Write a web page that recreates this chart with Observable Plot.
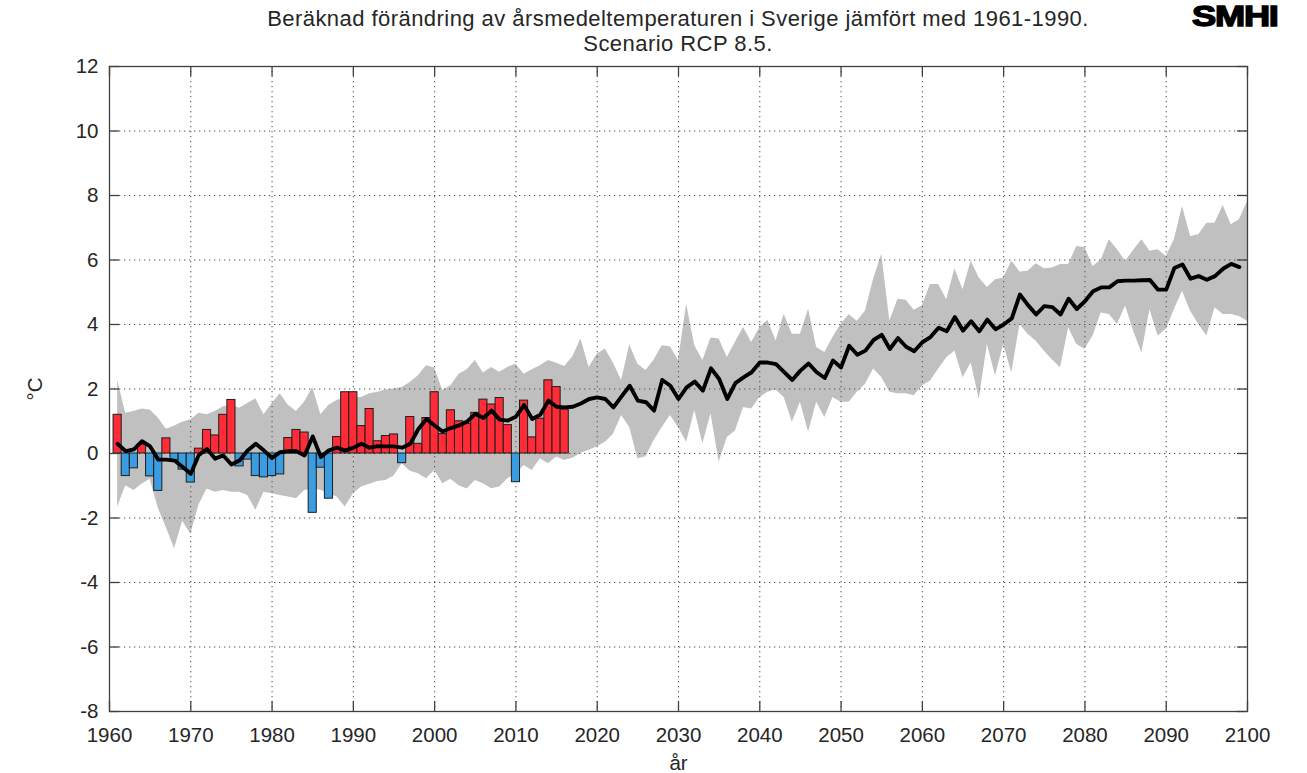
<!DOCTYPE html>
<html>
<head>
<meta charset="utf-8">
<script src="https://cdn.jsdelivr.net/npm/d3@7"></script>
<script src="https://cdn.jsdelivr.net/npm/@observablehq/plot@0.6"></script>
<style>
  body { margin: 0; background: #fff; font-family: "Liberation Sans", Arial, sans-serif; }
  #wrap { position: relative; width: 1307px; height: 773px; overflow: hidden; background: #fff; }
  #chart { position: absolute; left: 0; top: 0; }
  .title { position: absolute; left: 109px; width: 1138px; text-align: center; font-size: 22px; line-height: 24px; letter-spacing: 0.45px; color: #262626; white-space: nowrap; }
  #logo { position: absolute; left: 1192px; top: 0px; font-family: "Liberation Sans", Arial, sans-serif; font-weight: 700; font-size: 29px; line-height: normal; letter-spacing: -1px; color: #000; -webkit-text-stroke: 1.4px #000; transform-origin: left top; transform: scaleX(1.25); }
</style>
</head>
<body>
<div id="wrap">
  <div id="chart"></div>
  <div class="title" style="top:7px">Beräknad förändring av årsmedeltemperaturen i Sverige jämfört med 1961-1990.</div>
  <div class="title" style="top:32px">Scenario RCP 8.5.</div>
  <div id="logo">SMHI</div>
</div>
<script>
// ---- Observed annual anomalies (bars), 1961–2016 ----
const barStartYear = 1961;
const barValues = [
  1.2, -0.7, -0.46, 0.28, -0.71, -1.16, 0.47, -0.21, -0.5, -0.9,
  0.15, 0.73, 0.56, 1.2, 1.66, -0.4, -0.19, -0.7, -0.74, -0.7,
  -0.65, 0.48, 0.73, 0.65, -1.84, -0.44, -1.4, 0.51, 1.9, 1.9,
  0.85, 1.38, 0.38, 0.54, 0.59, -0.3, 1.13, 0.3, 1.1, 1.9,
  0.6, 1.34, 1.0, 0.92, 1.26, 1.67, 1.52, 1.72, 0.88, -0.89,
  1.64, 0.5, 1.08, 2.27, 2.06, 1.36
];

// ---- Model ensemble, 1961–2100 ----
const modelStartYear = 1961;
const modelMedian = [ // 1961–2099
  0.3, 0.07, 0.13, 0.38, 0.22, -0.19, -0.19, -0.22, -0.42, -0.63,
  -0.04, 0.14, -0.16, -0.06, -0.34, -0.22, 0.09, 0.3, 0.09, -0.14,
  0.04, 0.07, 0.07, -0.06, 0.53, -0.11, 0.1, 0.18, 0.09, 0.18,
  0.3, 0.18, 0.23, 0.22, 0.22, 0.18, 0.3, 0.76, 1.07, 0.87,
  0.68, 0.79, 0.87, 0.99, 1.23, 1.1, 1.33, 1.05, 1.02, 1.14,
  1.5, 1.07, 1.2, 1.64, 1.45, 1.43, 1.45, 1.55, 1.69, 1.74,
  1.69, 1.43, 1.77, 2.1, 1.64, 1.59, 1.33, 2.28, 2.1, 1.69,
  2.05, 2.23, 1.95, 2.64, 2.31, 1.69, 2.18, 2.36, 2.52, 2.82,
  2.82, 2.77, 2.52, 2.28, 2.57, 2.79, 2.52, 2.34, 2.88, 2.67,
  3.34, 3.06, 3.19, 3.52, 3.68, 3.24, 3.58, 3.31, 3.17, 3.45,
  3.61, 3.9, 3.79, 4.23, 3.81, 4.1, 3.79, 4.15, 3.85, 4.0,
  4.19, 4.93, 4.6, 4.31, 4.57, 4.54, 4.31, 4.8, 4.48, 4.72,
  5.03, 5.15, 5.15, 5.34, 5.36, 5.36, 5.37, 5.38, 5.08, 5.08,
  5.75, 5.86, 5.42, 5.5, 5.39, 5.5, 5.73, 5.88, 5.78
];
const modelUpper = [ // 1961–2100
  2.26, 1.25, 1.3, 1.38, 1.35, 1.1, 0.75, 0.85, 0.97, 1.05,
  1.25, 1.2, 1.3, 1.45, 1.5, 1.4, 1.55, 1.7, 1.2, 1.54,
  1.85, 1.5, 1.3, 1.6, 2.05, 1.2, 1.5, 1.64, 1.74, 1.74,
  1.74, 1.85, 1.9, 1.97, 2.0, 2.05, 2.2, 2.41, 2.72, 2.65,
  1.95, 2.1, 2.46, 2.6, 2.88, 2.5, 2.67, 2.52, 2.67, 2.77,
  2.46, 2.6, 2.72, 2.88, 2.8, 2.7, 3.0, 3.55, 2.67, 3.08,
  3.24, 2.8, 2.26, 3.37, 2.77, 2.57, 2.9, 3.34, 3.31, 2.88,
  4.63, 3.34, 2.88, 3.58, 3.55, 2.98, 3.45, 3.91, 3.44, 3.9,
  4.13, 3.49, 4.32, 3.7, 3.7, 4.47, 3.29, 3.13, 3.6, 4.01,
  4.3, 4.1, 4.42, 5.4, 6.18, 4.11, 4.78, 4.75, 4.44, 4.58,
  5.24, 5.24, 4.77, 5.73, 5.08, 5.96, 5.44, 5.15, 5.39, 5.44,
  5.96, 5.63, 5.65, 5.88, 5.73, 5.75, 5.86, 5.86, 6.42, 6.39,
  5.8, 6.0, 6.63, 6.32, 5.96, 6.3, 6.63, 6.27, 6.32, 6.11,
  6.63, 7.66, 6.73, 6.78, 7.14, 7.14, 7.69, 7.09, 7.25, 7.81
];
const modelLower = [ // 1961–2100
  -1.66, -1.0, -1.15, -0.95, -0.8, -1.7, -2.3, -2.95, -2.1, -2.5,
  -1.6, -1.1, -1.2, -1.15, -1.2, -1.2, -1.3, -1.76, -1.2, -1.25,
  -1.3, -1.35, -1.4, -1.15, -1.1, -1.14, -1.25, -1.35, -1.66, -1.25,
  -1.04, -0.95, -0.87, -0.84, -0.7, -0.32, -0.55, -0.63, -0.78, -0.53,
  -0.94, -0.8, -1.0, -1.1, -0.84, -0.94, -1.09, -1.04, -0.78, -0.65,
  -0.37, -0.53, -0.16, -0.32, -0.11, -0.22, -0.15, 0.0, 0.1, 0.2,
  0.35, 0.6, 1.18, 0.81, -0.16, -0.1, 0.4, 0.81, 1.18, 0.81,
  0.35, 1.33, 0.3, 1.23, -0.27, 0.5, 0.7, 1.43, 1.38, 1.74,
  1.9, 1.97, 1.74, 0.97, 1.59, 0.66, 1.59, 1.12, 1.74, 1.59,
  1.59, 1.9, 2.15, 2.62, 2.36, 1.9, 1.85, 1.85, 1.79, 2.09,
  2.25, 2.61, 2.97, 3.18, 2.35, 2.81, 1.68, 3.38, 2.4, 3.38,
  2.5, 4.0, 3.7, 3.48, 3.18, 2.9, 2.66, 3.9, 3.38, 3.23,
  3.64, 4.36, 4.31, 4.0, 4.57, 3.79, 3.12, 4.46, 3.64, 3.85,
  4.46, 5.03, 4.41, 4.0, 3.64, 4.52, 4.31, 4.31, 4.25, 4.1
];

// ---- Tick labels ----
const xTicks = [1960, 1970, 1980, 1990, 2000, 2010, 2020, 2030, 2040, 2050, 2060, 2070, 2080, 2090, 2100];
const yTicks = [-8, -6, -4, -2, 0, 2, 4, 6, 8, 10, 12];

// ---- Tables built from the arrays ----
const bars = barValues.map((v, i) => ({year: barStartYear + i, value: v}));
const band = modelUpper.map((hi, i) => ({year: modelStartYear + i, hi, lo: modelLower[i]}));
const median = modelMedian.map((v, i) => ({year: modelStartYear + i, value: v}));

const W = 1307, H = 773;
const mTop = 66, mBottom = 62, mLeft = 109, mRight = 60;
const plotW = W - mLeft - mRight, plotH = H - mTop - mBottom;
const tickLen = 10;
const frameColor = "#404040";
const gridStyle = {stroke: "#4f4f4f", strokeOpacity: 1, strokeWidth: 1, strokeDasharray: "1.3,3.7"};

const chart = Plot.plot({
  width: W, height: H,
  marginTop: mTop, marginBottom: mBottom, marginLeft: mLeft, marginRight: mRight,
  style: {fontFamily: "'Liberation Sans', Arial, sans-serif", color: "#262626", background: "white"},
  x: {domain: [1960, 2100]},
  y: {domain: [-8, 12]},
  marks: [
    Plot.areaY(band, {x: "year", y1: "lo", y2: "hi", fill: "#c0c0c0", curve: "linear"}),
    Plot.gridX(xTicks, gridStyle),
    Plot.gridY(yTicks, gridStyle),
    Plot.rectY(bars, {
      x1: d => d.year - 0.5, x2: d => d.year + 0.5,
      y1: d => 0, y2: "value",
      fill: d => d.value >= 0 ? "#ff2b37" : "#3a9de2",
      stroke: "#1e1e1e", strokeWidth: 1
    }),
    Plot.line(median, {x: "year", y: "value", stroke: "#000", strokeWidth: 3.9, strokeLinejoin: "round", strokeLinecap: "round"}),
    Plot.frame({stroke: frameColor, strokeWidth: 1.3}),
    Plot.tickX(xTicks, {x: d => d, insetTop: plotH - tickLen, stroke: frameColor, strokeWidth: 1.3}),
    Plot.tickX(xTicks, {x: d => d, insetBottom: plotH - tickLen, stroke: frameColor, strokeWidth: 1.3}),
    Plot.tickY(yTicks, {y: d => d, insetRight: plotW - tickLen, stroke: frameColor, strokeWidth: 1.3}),
    Plot.tickY(yTicks, {y: d => d, insetLeft: plotW - tickLen, stroke: frameColor, strokeWidth: 1.3}),
    Plot.axisX(xTicks, {tickSize: 0, tickPadding: 16, fontSize: 20.5, tickFormat: d => String(d),
      label: "år", labelAnchor: "center", labelOffset: 58, labelArrow: "none"}),
    Plot.axisY(yTicks, {tickSize: 0, tickPadding: 11, fontSize: 20.5, tickFormat: d => String(d),
      label: "°C", labelAnchor: "center", labelOffset: 82, labelArrow: "none"})
  ]
});
document.getElementById("chart").appendChild(chart);
</script>
</body>
</html>
